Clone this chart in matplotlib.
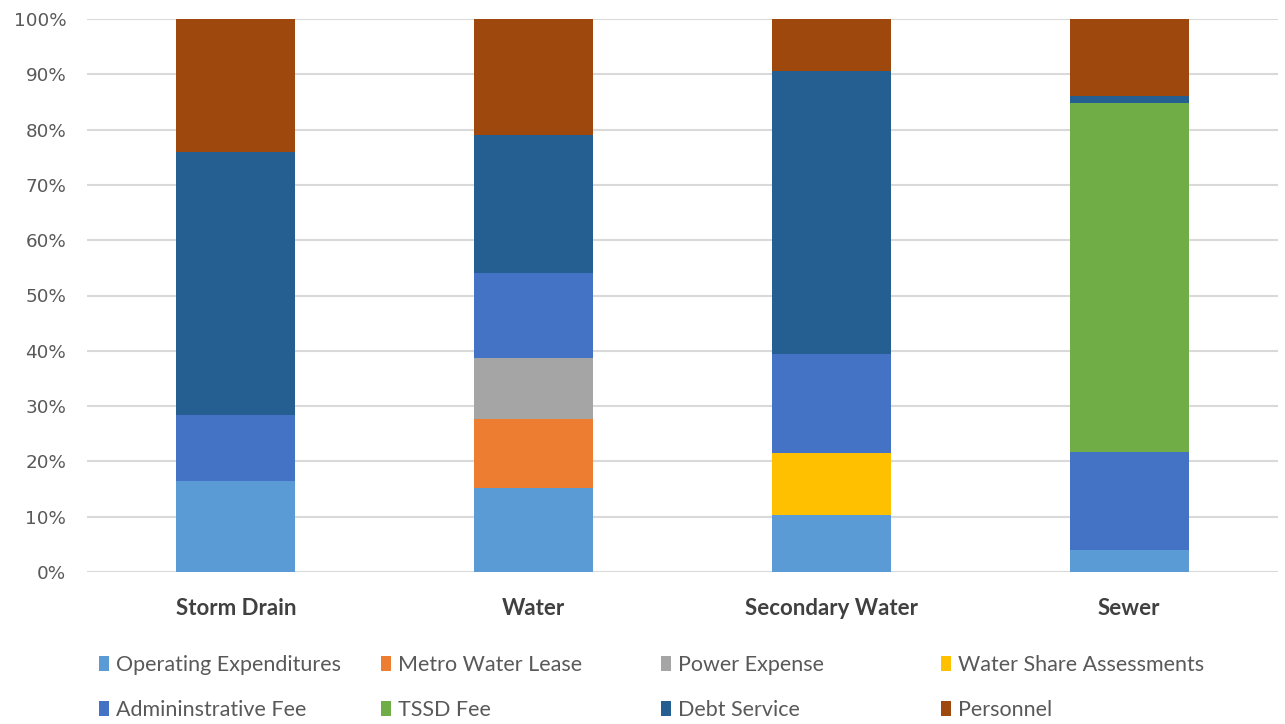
import matplotlib
matplotlib.use("Agg")
import matplotlib.pyplot as plt
import numpy as np
from matplotlib.patches import Patch

categories = ["Storm Drain", "Water", "Secondary Water", "Sewer"]

series_names = [
    "Operating Expenditures", "Metro Water Lease", "Power Expense", "Water Share Assessments",
    "Admininstrative Fee", "TSSD Fee", "Debt Service", "Personnel",
]
operating = [16.5, 15.2, 10.3, 4.0]
metro_water = [0.0, 12.5, 0.0, 0.0]
power = [0.0, 11.0, 0.0, 0.0]
water_share = [0.0, 0.0, 11.2, 0.0]
admin_fee = [11.9, 15.4, 17.9, 17.7]
tssd_fee = [0.0, 0.0, 0.0, 63.1]
debt_service = [47.6, 24.9, 51.2, 1.3]
personnel = [24.0, 21.0, 9.4, 13.9]

colors = ["#5B9BD5", "#ED7D31", "#A5A5A5", "#FFC000",
          "#4472C4", "#70AD47", "#255E91", "#9E480E"]

values = np.array([operating, metro_water, power, water_share,
                   admin_fee, tssd_fee, debt_service, personnel])
shares = values / values.sum(axis=0) * 100

plt.rcParams["font.family"] = ["Lato", "DejaVu Sans"]

W, H = 1285, 724
fig = plt.figure(figsize=(W / 100, H / 100), dpi=100)
ax = fig.add_axes([87 / W, 1 - 572 / H, (1278 - 87) / W, (572 - 19) / H])

x = np.arange(len(categories))
bottom = np.zeros(len(categories))
for name, row, c in zip(series_names, shares, colors):
    ax.bar(x, row, bottom=bottom, width=0.40, color=c, label=name, zorder=3)
    bottom += row

ax.set_xlim(-0.5, len(categories) - 0.5)
ax.set_ylim(0, 100)
ax.set_yticks(np.arange(0, 101, 10))
ax.set_yticklabels([f"{v}%" for v in range(0, 101, 10)],
                   fontfamily="DejaVu Sans")
ax.grid(axis="y", color="#D9D9D9", linewidth=1.5, zorder=0)
for s in ax.spines.values():
    s.set_visible(False)
ax.tick_params(axis="y", length=0, pad=15, labelsize=13.2, labelcolor="#595959")
ax.tick_params(axis="x", length=0, pad=19)
ax.set_xticks(x)
ax.set_xticklabels(categories, fontsize=16, fontweight="bold", color="#404040")

# legend: 4 columns x 2 rows, entries laid out row by row
col_x = [99, 381, 661, 941]
row_y = [665, 710]
for i, (name, c) in enumerate(zip(series_names, colors)):
    r, k = divmod(i, 4)
    fig.legend(handles=[Patch(facecolor=c, label=name)], loc="center left",
               bbox_to_anchor=(col_x[k] / W, 1 - row_y[r] / H),
               frameon=False, fontsize=15.5, labelcolor="#595959",
               handlelength=0.45, handleheight=0.65, handletextpad=0.35,
               borderpad=0, borderaxespad=0)

fig.savefig("out.png", dpi=100, facecolor="white")
